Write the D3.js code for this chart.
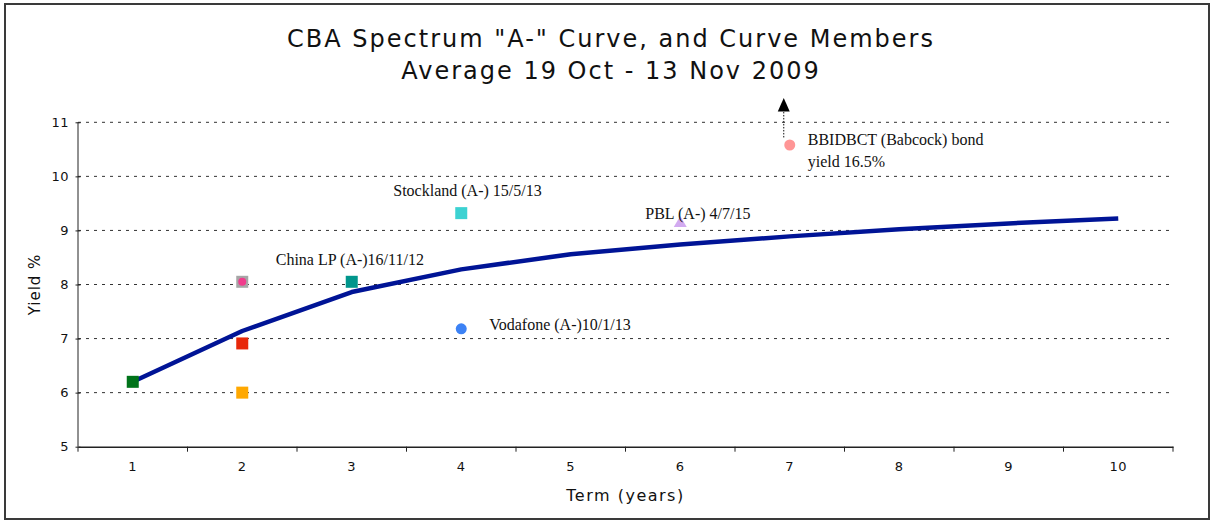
<!DOCTYPE html>
<html><head><meta charset="utf-8">
<script src="https://cdn.jsdelivr.net/npm/d3@7"></script>
<style>body{margin:0;background:#fff}svg{display:block}</style>
</head><body>
<svg id="c" width="1212" height="520"></svg>
<script>
const terms = [1,2,3,4,5,6,7,8,9,10];
const curveYield = [6.2,7.14,7.86,8.28,8.56,8.74,8.89,9.02,9.13,9.22];
const yTicks = [5,6,7,8,9,10,11];
// curve members
const memberNames = ["Green","GreyBox","PinkDot","Red","Orange","China LP","Stockland","Vodafone","PBL","BBIDBCT"];
const memberTerms = [1,2,2,2,2,3,4,4,6,7];
const memberYields = [6.2,8.05,8.05,6.91,6.0,8.05,9.32,7.18,9.12,10.58];
const memberShapes = ["square","square","circle","square","square","square","square","circle","triangle","circle"];
const memberColors = ["#00731a","#a6a6a6","#f03c8c","#e8280a","#ffa800","#00968c","#3cd2d2","#3c82f5","#d2aaf0","#ff9696"];
const labelTexts = ["China LP (A-)16/11/12","Stockland (A-) 15/5/13","Vodafone (A-)10/1/13","PBL (A-) 4/7/15","BBIDBCT (Babcock) bond","yield 16.5%"];
const labelTerms = [3,4,4,6,7,7];
const labelYields = [8.45,9.73,7.25,9.3,10.67,10.27];
const labelDx = [-76,-68,28,-35,18,18];

const svg = d3.select("#c");
const L=78, R=1173, T=122.3, B=446.7;
svg.append("rect").attr("x",5).attr("y",4).attr("width",1204).attr("height",515)
  .attr("fill","none").attr("stroke","#3a3a3a").attr("stroke-width",2);

const x = d3.scaleBand().domain(terms).range([L,R]).padding(0);
const y = d3.scaleLinear().domain([5,11]).range([B,T]);
const cx = t => x(t)+x.bandwidth()/2;

const sans = "DejaVu Sans, Verdana, sans-serif";
// title
[['CBA Spectrum "A-" Curve, and Curve Members',47],['Average 19 Oct - 13 Nov 2009',79]].forEach(([t,yy])=>{
  svg.append("text").attr("x",611).attr("y",yy).attr("text-anchor","middle")
    .attr("font-family",sans).attr("font-size",24).attr("letter-spacing","2px").attr("fill","#111").text(t);
});

// grid
svg.append("g").selectAll("line").data(yTicks.filter(d=>d>5)).join("line")
  .attr("x1",L).attr("x2",R).attr("y1",d=>y(d)).attr("y2",d=>y(d))
  .attr("stroke","#333").attr("stroke-width",1).attr("stroke-dasharray","3,5");

// axes
const gy = svg.append("g").attr("transform",`translate(${L},0)`)
  .call(d3.axisLeft(y).tickValues(yTicks).tickSize(5).tickPadding(4).tickFormat(d3.format("d")));
gy.select(".domain").attr("stroke","#222").attr("d",`M0,${T}V${B}`);
gy.selectAll(".tick line").attr("stroke","#222").attr("transform","translate(2.5,0)");
gy.selectAll("text").attr("font-family",sans).attr("font-size",13).attr("letter-spacing","0.5px").attr("fill","#111");

const gx = svg.append("g").attr("transform",`translate(0,${B})`)
  .call(d3.axisBottom(x).tickSize(0).tickPadding(15));
gx.select(".domain").attr("stroke","#222").attr("stroke-width",1.5);
gx.selectAll("text").attr("font-family",sans).attr("font-size",13).attr("letter-spacing","0.5px").attr("fill","#111");
svg.append("g").selectAll("line").data(terms.concat([11])).join("line")
  .attr("x1",(d,i)=> i<10 ? x(d) : R).attr("x2",(d,i)=> i<10 ? x(d) : R)
  .attr("y1",B).attr("y2",B+5).attr("stroke","#222");

// axis titles
svg.append("text").attr("transform",`translate(40,${(T+B)/2}) rotate(-90)`).attr("text-anchor","middle")
  .attr("font-family",sans).attr("font-size",15).attr("letter-spacing","1px").attr("fill","#111").text("Yield %");
svg.append("text").attr("x",(L+R)/2).attr("y",501).attr("text-anchor","middle")
  .attr("font-family",sans).attr("font-size",16).attr("letter-spacing","1.5px").attr("fill","#111").text("Term (years)");

// curve line
svg.append("path").datum(terms.map((t,i)=>[t,curveYield[i]]))
  .attr("d",d3.line().x(d=>cx(d[0])).y(d=>y(d[1])))
  .attr("fill","none").attr("stroke","#001496").attr("stroke-width",4.5).attr("stroke-linejoin","round");

// members
const mem = memberNames.map((n,i)=>({n,t:memberTerms[i],v:memberYields[i],s:memberShapes[i],c:memberColors[i]}));
const g = svg.append("g");
mem.forEach(m=>{
  const px=cx(m.t), py=y(m.v);
  if(m.s==="square") g.append("rect").attr("x",px-6).attr("y",py-6).attr("width",12).attr("height",12).attr("fill",m.c);
  else if(m.s==="circle") g.append("circle").attr("cx",px).attr("cy",py).attr("r",m.n==="PinkDot"?4:5.5).attr("fill",m.c);
  else g.append("path").attr("d",`M${px},${py-8}L${px+6.5},${py+3}L${px-6.5},${py+3}Z`).attr("fill",m.c);
});

// arrow off-scale indicator for BBIDBCT
const ax = cx(7)-6;
svg.append("line").attr("x1",ax).attr("x2",ax).attr("y1",y(10.72)).attr("y2",y(11.22))
  .attr("stroke","#111").attr("stroke-width",1).attr("stroke-dasharray","1.5,1.5");
svg.append("path").attr("d",`M${ax},${y(11.45)}L${ax+6},${y(11.2)}L${ax-6},${y(11.2)}Z`).attr("fill","#000");

// labels
svg.append("g").selectAll("text").data(labelTexts).join("text")
  .attr("x",(d,i)=>cx(labelTerms[i])+labelDx[i]).attr("y",(d,i)=>y(labelYields[i])+5)
  .attr("font-family","Liberation Serif, Times New Roman, serif").attr("font-size",16).attr("fill","#111")
  .text(d=>d);
</script>
</body></html>
